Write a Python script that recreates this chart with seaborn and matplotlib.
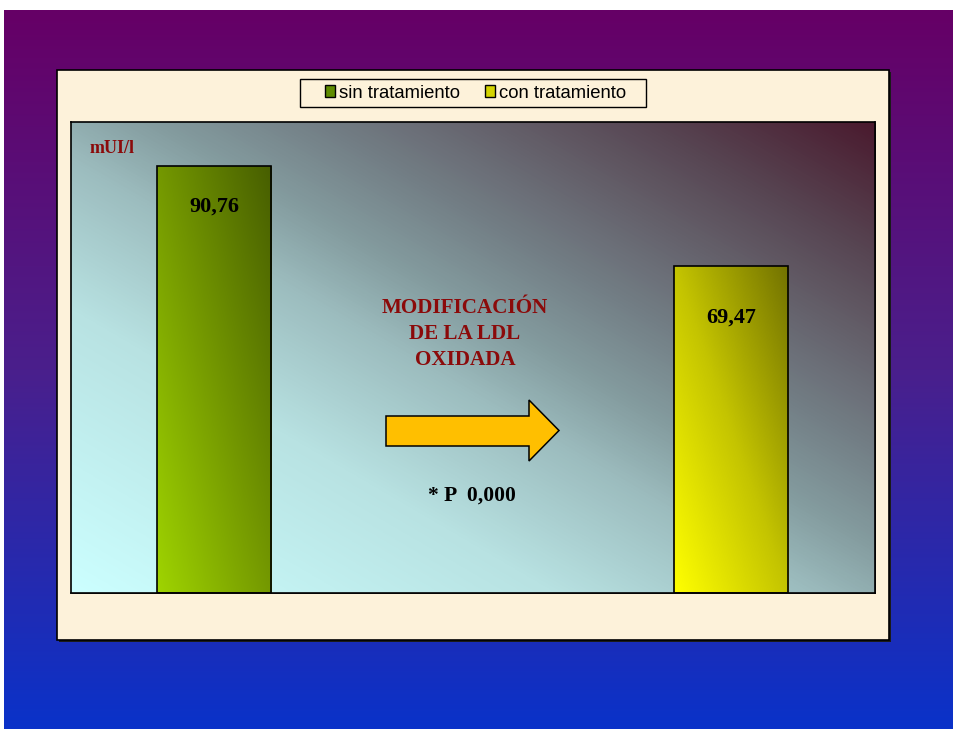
import numpy as np
import pandas as pd
import matplotlib
matplotlib.use("Agg")
import matplotlib.pyplot as plt
from matplotlib.colors import LinearSegmentedColormap
from matplotlib.patches import Rectangle, Polygon, Patch
import seaborn as sns

# ---- data ----
series = ["sin tratamiento", "con tratamiento"]
values = [90.76, 69.47]
value_labels = ["90,76", "69,47"]
unit_label = "mUI/l"
title_text = "MODIFICACIÓN\nDE LA LDL\nOXIDADA"
p_text = "* P  0,000"

# ---- styling ----
W, H = 954, 729
PARCHMENT = "#fdf2da"
DARK_RED = "#8b0a0a"
bar_cmaps = [
    LinearSegmentedColormap.from_list("verde", ["#9fd400", "#749800", "#475e00"]),
    LinearSegmentedColormap.from_list("amarillo", ["#ffff00", "#c4c400", "#727200"]),
]
legend_colors = ["#5f8c00", "#d4d400"]
serif = "Liberation Serif"
sans = "Liberation Sans"

fig = plt.figure(figsize=(W / 100, H / 100), dpi=100)


def fx(px):
    return px / W


def fy(py):
    return 1 - py / H


# slide background: vertical purple-to-blue gradient
bg = fig.add_axes([0, 0, 1, 1])
bg.set_axis_off()
bg.set_xlim(0, W)
bg.set_ylim(H, 0)
slide_cmap = LinearSegmentedColormap.from_list("slide", ["#660066", "#4a1f8c", "#0a32c9"])
bg.imshow(np.linspace(0, 1, 256).reshape(-1, 1), cmap=slide_cmap,
          extent=[4, W, H, 10], aspect="auto", zorder=0)

# chart frame with a thin drop shadow
bg.add_patch(Rectangle((59, 72), 832, 570, facecolor="#1a1a1a", edgecolor="none", zorder=1))
bg.add_patch(Rectangle((57, 70), 832, 570, facecolor=PARCHMENT, edgecolor="black",
                       linewidth=1.2, zorder=2))
bg.add_patch(Rectangle((72, 123), 804, 471, facecolor="#222222", edgecolor="none", zorder=3))
# legend box
bg.add_patch(Rectangle((300, 79), 346, 28, facecolor=PARCHMENT, edgecolor="black",
                       linewidth=1.0, zorder=4))

# plot area
ax = fig.add_axes([fx(71), fy(593), (875 - 71) / W, (593 - 122) / H])
n = 400
u = np.linspace(0, 1, n)
X, Y = np.meshgrid(u, u)
area_cmap = LinearSegmentedColormap.from_list(
    "area", [(0.0, "#ccffff"), (0.3, "#b8e2e2"), (0.46, "#9cbcbe"), (0.55, "#849c9f"),
             (0.65, "#737f86"), (0.86, "#574552"), (1.0, "#4a1a2e")])
ax.imshow((X + Y) / 2, cmap=area_cmap, extent=[0, 1, 0, 1], origin="lower",
          transform=ax.transAxes, aspect="auto", zorder=0)

df = pd.DataFrame({"serie": series, "valor": values})
sns.barplot(data=df, x="serie", y="valor", hue="serie", order=series, hue_order=series,
            palette=legend_colors, width=0.2205, edgecolor="black", linewidth=1.2,
            saturation=1, legend=False, ax=ax)

# diagonal gradient fill inside each bar
for patch, cmap in zip(ax.patches, bar_cmaps):
    x0, y0 = patch.get_x(), patch.get_y()
    w, h = patch.get_width(), patch.get_height()
    bx, by = np.meshgrid(np.linspace(0, 1, 100), np.linspace(0, 1, 300))
    t = 0.5 * bx + 0.5 * by
    img = ax.imshow(t, cmap=cmap, extent=[x0, x0 + w, y0, y0 + h], origin="lower",
                    aspect="auto", zorder=2)
    img.set_clip_path(patch)
    patch.set_facecolor("none")
    patch.set_zorder(3)

ax.set_xlim(-0.2766, 1.2785)
ax.set_ylim(0, 100)
ax.set_xticks([])
ax.set_yticks([])
ax.set_xlabel("")
ax.set_ylabel("")
for sp in ax.spines.values():
    sp.set_color("black")
    sp.set_linewidth(1.2)
    sp.set_zorder(5)
ax.set_zorder(1)
bg.set_zorder(0)

# value labels inside the bars
label_drop = [8.7, 11.0]
for i, (v, lab, d) in enumerate(zip(values, value_labels, label_drop)):
    ax.text(i, v - d, lab, ha="center", va="center", fontsize=16,
            fontweight="bold", family=serif, color="black", zorder=6)

# overlay for annotations drawn over the plot area
ov = fig.add_axes([0, 0, 1, 1])
ov.set_axis_off()
ov.set_xlim(0, W)
ov.set_ylim(H, 0)
ov.patch.set_alpha(0)
ov.set_zorder(2)

ov.text(90, 148, unit_label, ha="left", va="center", fontsize=13,
        fontweight="bold", family=serif, color=DARK_RED)
ov.text(465, 334, title_text, ha="center", va="center", fontsize=15.2,
        fontweight="bold", family=serif, color=DARK_RED, linespacing=1.43,
        multialignment="center")
ov.text(472, 496, p_text, ha="center", va="center", fontsize=15.5,
        fontweight="bold", family=serif, color="black")

# block arrow
arrow_pts = [(386, 416), (529, 416), (529, 400), (559, 430.5),
             (529, 461), (529, 446), (386, 446)]
ov.add_patch(Polygon(arrow_pts, closed=True, facecolor="#ffbf00", edgecolor="black",
                     linewidth=1.1))

# legend entries (box drawn above)
handles = [Patch(facecolor=c, edgecolor="black", linewidth=1.0) for c in legend_colors]
leg = fig.legend(handles, series, loc="center", bbox_to_anchor=(fx(475.5), fy(93)),
                 ncol=2, frameon=False, prop={"family": sans, "size": 13.3},
                 handlelength=0.55, handleheight=0.55, handletextpad=0.22,
                 columnspacing=1.35, borderpad=0.2)
leg.set_zorder(10)

fig.savefig("out.png", dpi=100)
